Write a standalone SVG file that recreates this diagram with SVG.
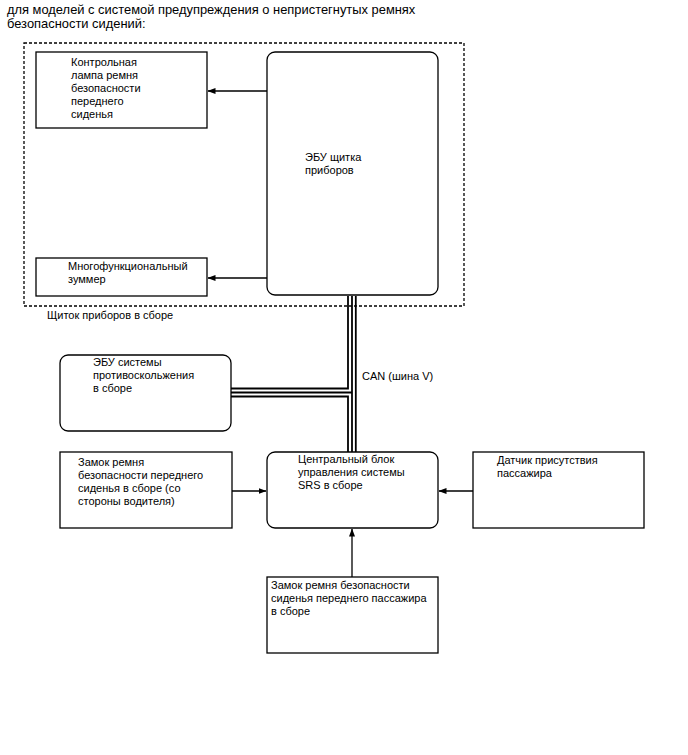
<svg xmlns="http://www.w3.org/2000/svg" width="688" height="755" viewBox="0 0 688 755">
<defs>
<marker id="ah" markerWidth="8" markerHeight="6" refX="7.5" refY="3" orient="auto" markerUnits="userSpaceOnUse">
<path d="M0,0 L8,3 L0,6 Z" fill="#000"/>
</marker>
<style>
text{font-family:"Liberation Sans",Arial,sans-serif;font-size:11px;fill:#000}
.t{font-size:12.9px}
.box{fill:#fff;stroke:#000;stroke-width:1.3}
.frame{fill:none;stroke:#000;stroke-width:1.3;stroke-dasharray:3 2}
.ar{fill:none;stroke:#000;stroke-width:1.3;marker-end:url(#ah)}
.bus{fill:none;stroke:#000;stroke-width:1.8}
</style>
</defs>
<rect width="688" height="755" fill="#fff"/>
<g id="title">
<text class="t" x="7" y="14">для моделей с системой предупреждения о непристегнутых ремнях</text>
<text class="t" x="7" y="28">безопасности сидений:</text>
</g>
<g id="cluster">
<rect class="frame" x="24" y="43" width="440" height="263"/>
<text x="47" y="319">Щиток приборов в сборе</text>
</g>
<g id="connectors">
<path class="ar" d="M267,91 H208"/>
<path class="ar" d="M267,278 H208"/>
<path class="ar" d="M232,491 H266"/>
<path class="ar" d="M473,491 H439"/>
<path class="ar" d="M352,577 V529"/>
<path class="bus" d="M231,388.5 H348 V296"/>
<path class="bus" d="M231,396.5 H348 V452"/>
<path class="bus" d="M231,392.5 H352"/>
<path class="bus" d="M352,296 V452"/>
<path class="bus" d="M355.8,296 V452"/>
<text x="362" y="380">CAN (шина V)</text>
</g>
<g id="lamp">
<rect class="box" x="36" y="52" width="171" height="76"/>
<text x="71" y="66">Контрольная</text>
<text x="71" y="79">лампа ремня</text>
<text x="71" y="92">безопасности</text>
<text x="71" y="105">переднего</text>
<text x="71" y="118">сиденья</text>
</g>
<g id="ecu">
<rect class="box" x="267" y="52" width="171" height="243" rx="8"/>
<text x="305" y="161">ЭБУ щитка</text>
<text x="305" y="174">приборов</text>
</g>
<g id="buzzer">
<rect class="box" x="36" y="258" width="171" height="38"/>
<text x="68" y="270">Многофункциональный</text>
<text x="68" y="283">зуммер</text>
</g>
<g id="abs">
<rect class="box" x="60" y="355" width="171" height="76" rx="8"/>
<text x="93" y="366">ЭБУ системы</text>
<text x="93" y="379">противоскольжения</text>
<text x="93" y="392">в сборе</text>
</g>
<g id="driverbuckle">
<rect class="box" x="60" y="452" width="172" height="76"/>
<text x="78" y="466">Замок ремня</text>
<text x="78" y="479">безопасности переднего</text>
<text x="78" y="492">сиденья в сборе (со</text>
<text x="78" y="505">стороны водителя)</text>
</g>
<g id="srs">
<rect class="box" x="267" y="452" width="171" height="76" rx="8"/>
<text x="298" y="463">Центральный блок</text>
<text x="298" y="476">управления системы</text>
<text x="298" y="489">SRS в сборе</text>
</g>
<g id="occupant">
<rect class="box" x="473" y="452" width="171" height="76"/>
<text x="497" y="464">Датчик присутствия</text>
<text x="497" y="477">пассажира</text>
</g>
<g id="passbuckle">
<rect class="box" x="267" y="577" width="171" height="76"/>
<text x="271" y="589">Замок ремня безопасности</text>
<text x="271" y="602">сиденья переднего пассажира</text>
<text x="271" y="615">в сборе</text>
</g>
</svg>
